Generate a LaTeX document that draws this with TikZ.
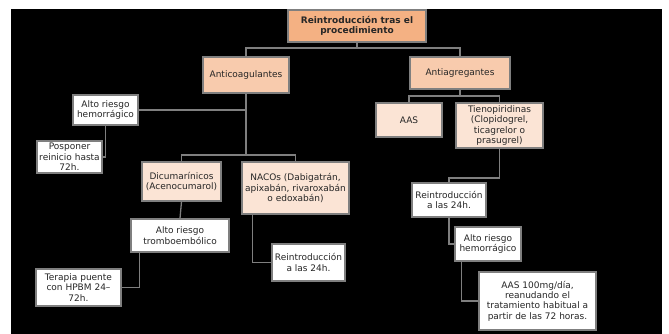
\documentclass[tikz,border=0pt]{standalone}
\usepackage{fontspec}
\setmainfont{DejaVu Sans}
\definecolor{rootfill}{HTML}{F4B183}
\definecolor{midfill}{HTML}{F8CBAD}
\definecolor{lowfill}{HTML}{FBE4D5}
\definecolor{edge}{HTML}{7F7F7F}
\definecolor{txt}{HTML}{262626}
\tikzset{
  bx/.style={draw=edge, line width=1.2pt, inner sep=0pt, align=center, text=txt,
    font=\fontsize{9}{10.3}\selectfont},
  conn/.style={draw=edge, line width=1.3pt},
}
\newcommand{\bxat}[7]{% name, x1,y1,x2,y2, style, text
  \node[bx,#6,minimum width=#4-#2,minimum height=#5-#3] (#1) at ({(#2+#4)/2},{(#3+#5)/2}) {#7};}
\begin{document}
\begin{tikzpicture}[x=1pt,y=-1pt]
\useasboundingbox (0,0) rectangle (669,334);
\fill[white] (0,0) rectangle (669,334);
\fill[black] (11,9) rectangle (662,334);
% boxes
\bxat{root}{288}{10}{426}{42}{fill=rootfill,font=\fontsize{9}{10.3}\selectfont\bfseries}{Reintroducción tras el\\procedimiento}
\bxat{anticoag}{203}{57}{289}{93}{fill=midfill}{Anticoagulantes}
\bxat{antiag}{410}{57}{510}{89}{fill=midfill}{Antiagregantes}
\bxat{altohemA}{73}{95}{138}{125}{fill=white}{Alto riesgo\\hemorrágico}
\bxat{posponer}{37}{141}{102}{173}{fill=white}{Posponer\\reinicio hasta\\72h.}
\bxat{dicum}{142}{162}{221}{201}{fill=lowfill}{Dicumarínicos\\(Acenocumarol)}
\bxat{naco}{242}{162}{349}{214}{fill=lowfill}{NACOs (Dabigatrán,\\apixabán, rivaroxabán\\o edoxabán)}
\bxat{tromb}{131}{219}{229}{252}{fill=white}{Alto riesgo\\tromboembólico}
\bxat{terapia}{36}{269}{121}{306}{fill=white}{Terapia puente\\con HPBM 24–\\72h.}
\bxat{reintroN}{272}{244}{345}{281}{fill=white}{Reintroducción\\a las 24h.}
\bxat{aas}{376}{103}{442}{137}{fill=lowfill}{AAS}
\bxat{tieno}{456}{103}{543}{148}{fill=lowfill}{Tienopiridinas\\(Clopidogrel,\\ticagrelor o\\prasugrel)}
\bxat{reintroA}{412}{183}{486}{217}{fill=white}{Reintroducción\\a las 24h.}
\bxat{altohemB}{455}{227}{521}{261}{fill=white}{Alto riesgo\\hemorrágico}
\bxat{aascien}{479}{272}{596}{330}{fill=white}{AAS 100mg/día,\\reanudando el\\tratamiento habitual a\\partir de las 72 horas.}
% junctions
\coordinate (j0) at (357,48);
\coordinate (j1) at (246,155);
\coordinate (j2) at (460,96);
\coordinate (j3) at (499.5,178);
% connectors
\draw[conn] (root.south) -- (j0);
\draw[conn] (anticoag.north) -- (anticoag.north |- j0) -- (antiag.north |- j0) -- (antiag.north);
\draw[conn] (anticoag.south) -- (j1);
\draw[conn] (altohemA.east) -- (anticoag.south |- altohemA.east);
\draw[conn] (dicum.north) -- (dicum.north |- j1) -- (naco.north |- j1) -- (naco.north);
\draw[conn] (altohemA.south) |- (posponer.east);
\draw[conn] (dicum.south) -- (tromb.north);
\draw[conn] ([xshift=9pt]tromb.south west) |- (terapia.east);
\draw[conn] ([xshift=11pt]naco.south west) |- (reintroN.west);
\draw[conn] (antiag.south) -- (j2);
\draw[conn] (aas.north) -- (aas.north |- j2) -- (tieno.north |- j2) -- (tieno.north);
\draw[conn] (tieno.south) -- (j3) -| (reintroA.north);
\draw[conn] (reintroA.south) |- (altohemB.west);
\draw[conn] ([xshift=7pt]altohemB.south west) |- (aascien.west);
\end{tikzpicture}
\end{document}
